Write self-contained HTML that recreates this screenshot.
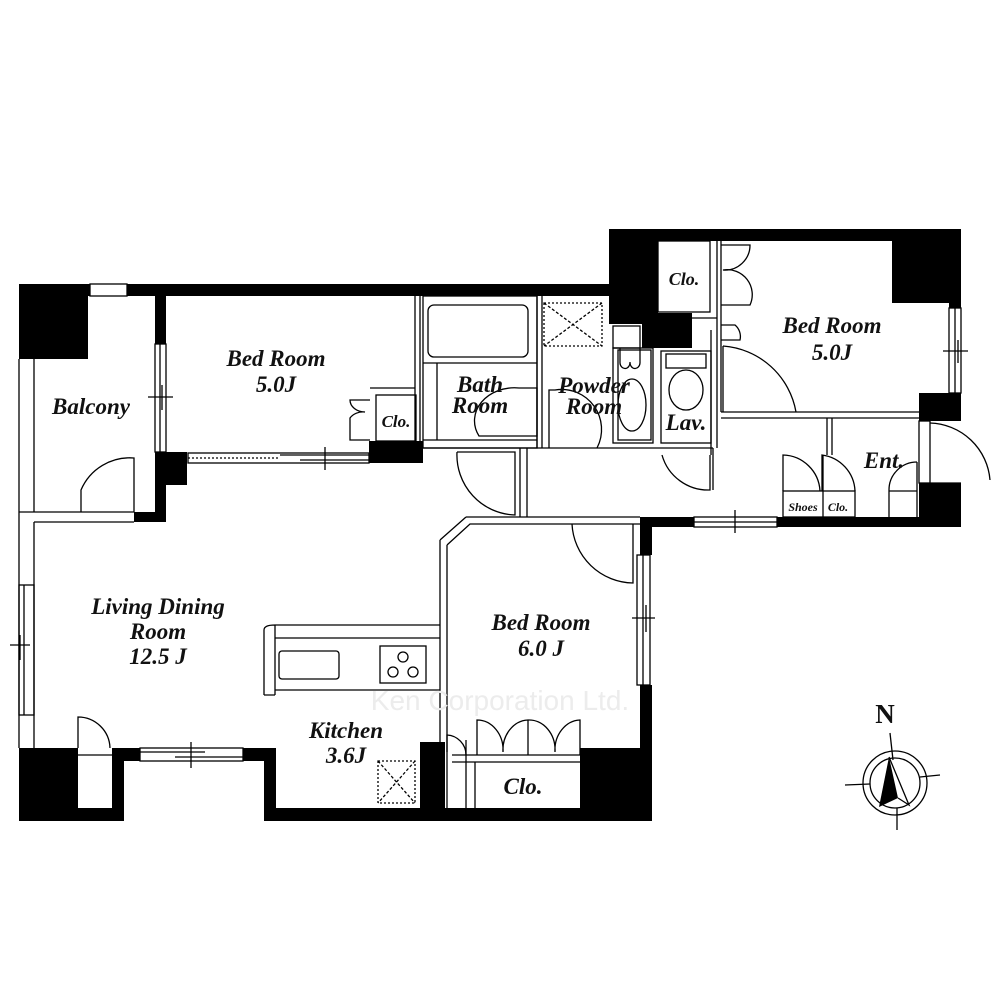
<!DOCTYPE html>
<html><head><meta charset="utf-8"><style>
html,body{margin:0;padding:0;background:#fff;}
svg{display:block}
text{font-family:"Liberation Serif",serif;font-style:italic;font-weight:bold;fill:#111}
</style></head><body>
<svg width="1000" height="1000" viewBox="0 0 1000 1000" xmlns="http://www.w3.org/2000/svg">
<g fill="#000">
<rect x="19" y="284" width="591" height="12"/>
<rect x="19" y="284" width="69" height="75"/>
<rect x="155" y="296" width="11" height="48"/>
<rect x="155" y="452" width="32" height="33"/>
<rect x="155" y="485" width="11" height="37"/>
<rect x="134" y="512" width="32" height="10"/>
<rect x="369" y="441" width="54" height="22"/>
<rect x="609" y="229" width="352" height="12"/>
<rect x="609" y="229" width="49" height="95"/>
<rect x="642" y="313" width="50" height="35"/>
<rect x="892" y="229" width="69" height="74"/>
<rect x="949" y="300" width="12" height="8"/>
<rect x="919" y="393" width="42" height="28"/>
<rect x="919" y="483" width="42" height="44"/>
<rect x="777" y="517" width="184" height="10"/>
<rect x="640" y="517" width="54" height="10"/>
<rect x="640" y="517" width="12" height="38"/>
<rect x="640" y="685" width="12" height="136"/>
<rect x="19" y="748" width="59" height="73"/>
<rect x="19" y="808" width="105" height="13"/>
<rect x="112" y="748" width="12" height="73"/>
<rect x="112" y="748" width="28" height="13"/>
<rect x="243" y="748" width="33" height="13"/>
<rect x="264" y="748" width="12" height="73"/>
<rect x="264" y="808" width="388" height="13"/>
<rect x="420" y="742" width="25" height="79"/>
<rect x="580" y="748" width="72" height="73"/>
</g>
<g fill="none" stroke="#000" stroke-width="1.3">
<rect x="90" y="284" width="37" height="12" fill="#fff"/>
<line x1="19" y1="359" x2="19" y2="748"/>
<line x1="34" y1="359" x2="34" y2="512"/>
<line x1="19" y1="512" x2="134" y2="512"/>
<line x1="34" y1="522" x2="134" y2="522"/>
<line x1="34" y1="522" x2="34" y2="748"/>
<rect x="155" y="344" width="11" height="108"/><line x1="160" y1="344" x2="160" y2="452"/>
<line x1="148" y1="397" x2="173" y2="397"/><line x1="162" y1="385" x2="162" y2="410"/>
<path d="M81 512 V490 A53 53 0 0 1 134 458 V512"/>
<rect x="19" y="585" width="15" height="130"/><line x1="24" y1="585" x2="24" y2="715"/>
<line x1="10" y1="645" x2="30" y2="645"/><line x1="20" y1="635" x2="20" y2="660"/>
<line x1="415" y1="296" x2="415" y2="441"/><line x1="420" y1="296" x2="420" y2="441"/>
<line x1="370" y1="388" x2="415" y2="388"/>
<rect x="376" y="395" width="40" height="46"/>
<path d="M370 400 H350 A15 12 0 0 0 365 412 A15 12 0 0 0 350 418 V440 H370"/>
<rect x="188" y="453" width="181" height="10"/>
<line x1="188" y1="458" x2="280" y2="458" stroke-dasharray="2 2"/>
<line x1="280" y1="455" x2="369" y2="455"/><line x1="300" y1="460" x2="369" y2="460"/>
<line x1="325" y1="447" x2="325" y2="470"/>
<rect x="423" y="296" width="114" height="152"/>
<rect x="428" y="305" width="100" height="52" rx="6"/>
<line x1="423" y1="363" x2="537" y2="363"/>
<line x1="437" y1="363" x2="437" y2="440"/>
<line x1="423" y1="440" x2="537" y2="440"/>
<path d="M479 436 A40 33 0 0 1 519 388 H537 V436 Z"/>
<line x1="537" y1="296" x2="537" y2="448"/><line x1="542" y1="296" x2="542" y2="448"/>
<rect x="544" y="303" width="58" height="43" stroke-dasharray="2 2"/>
<line x1="544" y1="303" x2="602" y2="346" stroke-dasharray="3 2"/><line x1="602" y1="303" x2="544" y2="346" stroke-dasharray="3 2"/>
<path d="M549 448 V390 H555 A40 40 0 0 1 597 448"/>
<rect x="613" y="326" width="27" height="22"/>
<rect x="613" y="348" width="40" height="95"/>
<rect x="618" y="350" width="33" height="90"/>
<ellipse cx="632" cy="405" rx="14" ry="26"/>
<path d="M620 348 V363 A5 6 0 0 0 630 362 A5 6 0 0 0 640 363 V348"/>
<rect x="661" y="351" width="50" height="92"/>
<rect x="666" y="354" width="40" height="14"/>
<ellipse cx="686" cy="390" rx="17" ry="20"/>
<line x1="711" y1="330" x2="711" y2="455"/>
<line x1="717" y1="241" x2="717" y2="448"/><line x1="721" y1="241" x2="721" y2="412"/>
<path d="M662 455 A48 48 0 0 0 710 490 V455"/>
<rect x="658" y="241" width="52" height="71"/>
<path d="M721 245 H750 A25 25 0 0 1 723 270 A25 25 0 0 1 750 305 H721"/>
<path d="M721 325 H735 A15 15 0 0 1 740 340 H721"/>
<line x1="692" y1="318" x2="717" y2="318"/>
<path d="M723 346 A80 80 0 0 1 796 412"/><line x1="723" y1="346" x2="723" y2="412"/>
<line x1="721" y1="412" x2="919" y2="412"/><line x1="721" y1="418" x2="919" y2="418"/>
<rect x="949" y="308" width="12" height="85"/><line x1="955" y1="308" x2="955" y2="393"/>
<line x1="943" y1="351" x2="968" y2="351"/><line x1="958" y1="340" x2="958" y2="363"/>
<rect x="919" y="421" width="11" height="62"/>
<path d="M930 423 A62 62 0 0 1 990 480 M930 483 H961"/>
<line x1="827" y1="418" x2="827" y2="455"/><line x1="832" y1="418" x2="832" y2="455"/>
<rect x="783" y="491" width="72" height="26"/><line x1="823" y1="455" x2="823" y2="517"/>
<path d="M783 491 V455 A38 38 0 0 1 820 491"/>
<path d="M822 491 V455 A38 38 0 0 1 855 491"/>
<path d="M889 517 V490 A28 28 0 0 1 917 462"/><line x1="889" y1="491" x2="917" y2="491"/>
<line x1="917" y1="462" x2="917" y2="517"/>
<rect x="694" y="517" width="83" height="10"/><line x1="694" y1="522" x2="777" y2="522"/>
<line x1="735" y1="510" x2="735" y2="533"/>
<line x1="423" y1="448" x2="713" y2="448"/><line x1="713" y1="448" x2="713" y2="490"/>
<line x1="520" y1="448" x2="520" y2="517"/><line x1="527" y1="448" x2="527" y2="517"/>
<path d="M457 452 H515 V515 A60 60 0 0 1 457 452"/>
<line x1="466" y1="517" x2="640" y2="517"/>
<path d="M440 540 L466 517 M447 545 L470 524 H640 M440 540 V808 M447 545 V808"/>
<path d="M572 524 A62 62 0 0 0 633 583 V524"/>
<rect x="637" y="555" width="13" height="130"/><line x1="643" y1="555" x2="643" y2="685"/>
<line x1="632" y1="618" x2="655" y2="618"/><line x1="646" y1="605" x2="646" y2="632"/>
<line x1="452" y1="755" x2="580" y2="755"/><line x1="452" y1="762" x2="580" y2="762"/>
<line x1="475" y1="762" x2="475" y2="808"/><line x1="466" y1="740" x2="466" y2="808"/>
<path d="M447 752 V735 A20 20 0 0 1 466 755"/>
<path d="M477 755 V720 A26 30 0 0 1 503 752 A26 30 0 0 1 528 720 A26 30 0 0 1 555 752 A26 30 0 0 1 580 720 V755"/>
<line x1="528" y1="720" x2="528" y2="755"/>
<path d="M264 695 V630 Q264 625 275 625 H440 M275 625 V695 M264 695 H275 M275 638 H440 M275 690 H440"/>
<rect x="279" y="651" width="60" height="28" rx="3"/>
<rect x="380" y="646" width="46" height="37"/>
<circle cx="403" cy="657" r="5"/><circle cx="393" cy="672" r="5"/><circle cx="413" cy="672" r="5"/>
<rect x="378" y="761" width="37" height="42" stroke-dasharray="2 2"/>
<line x1="378" y1="761" x2="415" y2="803" stroke-dasharray="3 2"/><line x1="415" y1="761" x2="378" y2="803" stroke-dasharray="3 2"/>
<path d="M78 748 V717 A32 32 0 0 1 110 748"/><line x1="78" y1="755" x2="112" y2="755"/>
<rect x="140" y="748" width="103" height="13"/><line x1="140" y1="752" x2="205" y2="752"/><line x1="175" y1="757" x2="243" y2="757"/>
<line x1="191" y1="742" x2="191" y2="768"/>
<circle cx="895" cy="783" r="32"/><circle cx="895" cy="783" r="25"/>
<line x1="890" y1="733" x2="893" y2="760"/><line x1="897" y1="808" x2="897" y2="830"/>
<line x1="845" y1="785" x2="870" y2="784"/><line x1="920" y1="777" x2="940" y2="775"/>
<path d="M889 757 L909 805 L898 798"/>
</g>
<path d="M889 757 L879 807 L898 798 Z" fill="#000"/>
<text x="276" y="366" font-size="23" text-anchor="middle">Bed Room</text>
<text x="276" y="392" font-size="23" text-anchor="middle">5.0J</text>
<text x="91" y="414" font-size="23" text-anchor="middle">Balcony</text>
<text x="396" y="427" font-size="17" text-anchor="middle">Clo.</text>
<text x="480" y="392" font-size="23" text-anchor="middle">Bath</text>
<text x="480" y="413" font-size="23" text-anchor="middle">Room</text>
<text x="594" y="393" font-size="23" text-anchor="middle">Powder</text>
<text x="594" y="414" font-size="23" text-anchor="middle">Room</text>
<text x="686" y="430" font-size="23" text-anchor="middle">Lav.</text>
<text x="684" y="285" font-size="18" text-anchor="middle">Clo.</text>
<text x="832" y="333" font-size="23" text-anchor="middle">Bed Room</text>
<text x="832" y="360" font-size="23" text-anchor="middle">5.0J</text>
<text x="884" y="468" font-size="23" text-anchor="middle">Ent.</text>
<text x="803" y="511" font-size="12" text-anchor="middle">Shoes</text>
<text x="838" y="511" font-size="12" text-anchor="middle">Clo.</text>
<text x="158" y="614" font-size="23" text-anchor="middle">Living Dining</text>
<text x="158" y="639" font-size="23" text-anchor="middle">Room</text>
<text x="158" y="664" font-size="23" text-anchor="middle">12.5 J</text>
<text x="541" y="630" font-size="23" text-anchor="middle">Bed Room</text>
<text x="541" y="656" font-size="23" text-anchor="middle">6.0 J</text>
<text x="346" y="738" font-size="23" text-anchor="middle">Kitchen</text>
<text x="346" y="763" font-size="23" text-anchor="middle">3.6J</text>
<text x="523" y="794" font-size="23" text-anchor="middle">Clo.</text>
<text x="885" y="723" font-size="27" text-anchor="middle" style="font-style:normal">N</text>
<text x="500" y="710" font-size="28" text-anchor="middle" style="font-family:'Liberation Sans',sans-serif;font-style:normal;font-weight:normal;fill:#ececec">Ken Corporation Ltd.</text>
</svg>
</body></html>
